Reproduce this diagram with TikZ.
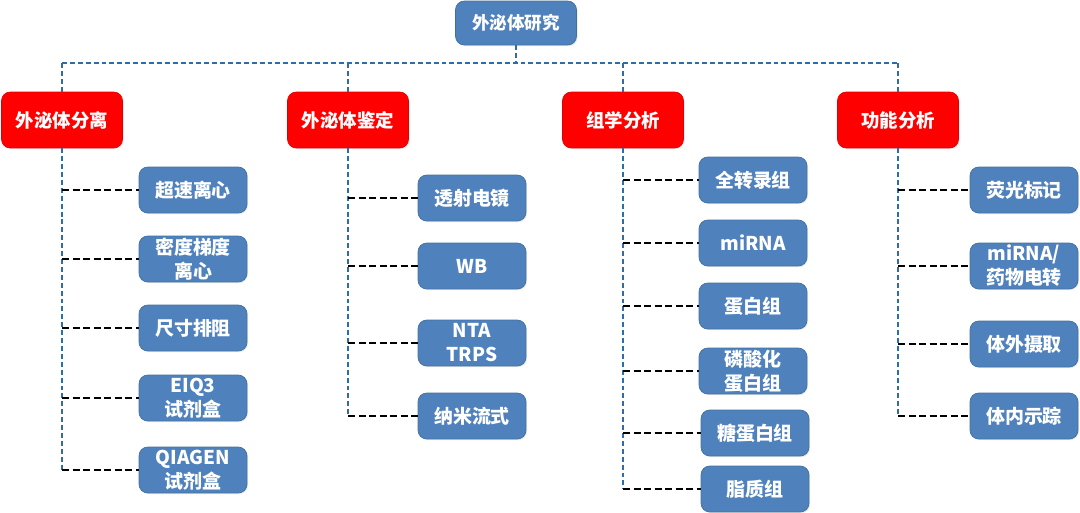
\documentclass[tikz,border=0pt]{standalone}
\usepackage{fontspec}
\setmainfont{Noto Sans CJK SC}
\usepackage{xcolor}
\usetikzlibrary{shadows}
\definecolor{boxblue}{HTML}{4F81BD}
\definecolor{boxbluestroke}{HTML}{41709F}
\definecolor{boxred}{HTML}{FF0000}
\definecolor{boxredstroke}{HTML}{E00000}
\definecolor{busblue}{HTML}{2F6DA8}
\newcommand{\subw}{2.16cm}
\newcommand{\subh}{0.92cm}
\tikzset{
    rootbox/.style={rectangle, rounded corners=5pt, draw=boxbluestroke, fill=boxblue,
    minimum width=2.42cm, minimum height=0.88cm, align=center, text=white,
    font=\fontsize{10}{13}\selectfont\bfseries,
    drop shadow={opacity=0.2, shadow xshift=0.6pt, shadow yshift=-0.6pt}},
    redbox/.style={rectangle, rounded corners=5pt, draw=boxredstroke, fill=boxred,
    minimum width=2.42cm, minimum height=1.12cm, align=center, text=white,
    font=\fontsize{10.5}{13.6}\selectfont\bfseries,
    drop shadow={opacity=0.2, shadow xshift=0.6pt, shadow yshift=-0.6pt}},
    subbox/.style={rectangle, rounded corners=5pt, draw=boxbluestroke, fill=boxblue,
    minimum width=\subw, minimum height=\subh, align=center, text=white, inner sep=1pt,
    font=\fontsize{10.8}{13.6}\selectfont\bfseries,
    drop shadow={opacity=0.2, shadow xshift=0.6pt, shadow yshift=-0.6pt}},
    busline/.style={draw=busblue, line width=1.1pt, dash pattern=on 2.8pt off 1.7pt},
    twig/.style={draw=black, line width=1.7pt, dash pattern=on 4pt off 2pt},
}

\begin{document}
\begin{tikzpicture}[x=0.02cm, y=-0.02cm]

        \useasboundingbox (0,0) rectangle (1080,513);

% =========================================================
% Top level
% =========================================================

        \def\colA{62}
        \def\colB{348}
        \def\colC{623}
        \def\colD{898}

        \node[rootbox] (root) at (516,23) {外泌体研究};
        \coordinate (bus) at (516,63);

        \node[redbox] (iso)   at (\colA,120) {外泌体分离};
        \node[redbox] (ident) at (\colB,120) {外泌体鉴定};
        \node[redbox] (omics) at (\colC,120) {组学分析};
        \node[redbox] (func)  at (\colD,120) {功能分析};

        \draw[busline] (root.south) -- (bus);
        \draw[busline] (iso.north |- bus) -- (func.north |- bus);
        \draw[busline] (iso.north |- bus) -- (iso.north);
        \draw[busline] (ident.north |- bus) -- (ident.north);
        \draw[busline] (omics.north |- bus) -- (omics.north);
        \draw[busline] (func.north |- bus) -- (func.north);

% =========================================================
% Column 1: 外泌体分离
% =========================================================

        \node[subbox] (iso1) at (193,190) {超速离心};
        \node[subbox] (iso2) at (193,259) {密度梯度\\离心};
        \node[subbox] (iso3) at (193,328) {尺寸排阻};
        \node[subbox] (iso4) at (193,398) {EIQ3\\试剂盒};
        \node[subbox] (iso5) at (193,470) {QIAGEN\\试剂盒};

        \draw[busline] (iso.south) -- (iso.south |- iso5.west);
        \draw[twig] (iso.south |- iso1.west) -- (iso1.west);
        \draw[twig] (iso.south |- iso2.west) -- (iso2.west);
        \draw[twig] (iso.south |- iso3.west) -- (iso3.west);
        \draw[twig] (iso.south |- iso4.west) -- (iso4.west);
        \draw[twig] (iso.south |- iso5.west) -- (iso5.west);

% =========================================================
% Column 2: 外泌体鉴定
% =========================================================

        \node[subbox] (ident1) at (472,198) {透射电镜};
        \node[subbox] (ident2) at (472,266) {WB};
        \node[subbox] (ident3) at (472,343) {NTA\\TRPS};
        \node[subbox] (ident4) at (472,416) {纳米流式};

        \draw[busline] (ident.south) -- (ident.south |- ident4.west);
        \draw[twig] (ident.south |- ident1.west) -- (ident1.west);
        \draw[twig] (ident.south |- ident2.west) -- (ident2.west);
        \draw[twig] (ident.south |- ident3.west) -- (ident3.west);
        \draw[twig] (ident.south |- ident4.west) -- (ident4.west);

% =========================================================
% Column 3: 组学分析
% =========================================================

        \node[subbox] (omics1) at (753,180) {全转录组};
        \node[subbox] (omics2) at (753,243) {miRNA};
        \node[subbox] (omics3) at (753,306) {蛋白组};
        \node[subbox] (omics4) at (753,371) {磷酸化\\蛋白组};
        \node[subbox] (omics5) at (755,433) {糖蛋白组};
        \node[subbox] (omics6) at (755,489) {脂质组};

        \draw[busline] (omics.south) -- (omics.south |- omics6.west);
        \draw[twig] (omics.south |- omics1.west) -- (omics1.west);
        \draw[twig] (omics.south |- omics2.west) -- (omics2.west);
        \draw[twig] (omics.south |- omics3.west) -- (omics3.west);
        \draw[twig] (omics.south |- omics4.west) -- (omics4.west);
        \draw[twig] (omics.south |- omics5.west) -- (omics5.west);
        \draw[twig] (omics.south |- omics6.west) -- (omics6.west);

% =========================================================
% Column 4: 功能分析
% =========================================================

        \node[subbox] (func1) at (1024,190) {荧光标记};
        \node[subbox] (func2) at (1024,266) {miRNA/\\药物电转};
        \node[subbox] (func3) at (1024,344) {体外摄取};
        \node[subbox] (func4) at (1024,416) {体内示踪};

        \draw[busline] (func.south) -- (func.south |- func4.west);
        \draw[twig] (func.south |- func1.west) -- (func1.west);
        \draw[twig] (func.south |- func2.west) -- (func2.west);
        \draw[twig] (func.south |- func3.west) -- (func3.west);
        \draw[twig] (func.south |- func4.west) -- (func4.west);

    \end{tikzpicture}
\end{document}
